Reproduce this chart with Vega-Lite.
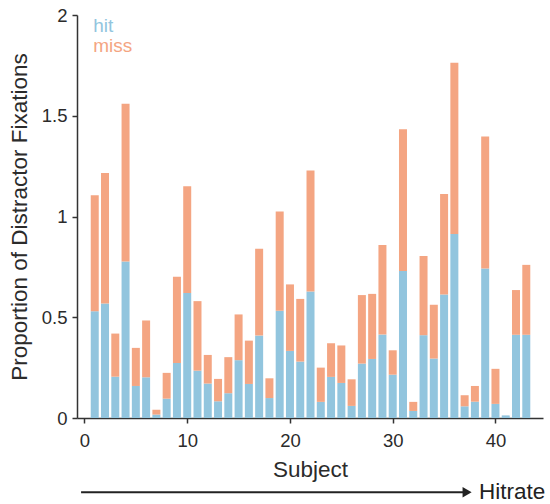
{
  "$schema": "https://vega.github.io/schema/vega-lite/v6.json",
  "width": 466,
  "height": 403,
  "autosize": "none",
  "padding": {"left": 77, "top": 15, "right": 7, "bottom": 86},
  "background": "white",
  "config": {
    "view": {"stroke": null},
    "font": "Liberation Sans",
    "axis": {
      "grid": false,
      "domainColor": "#333333",
      "domainWidth": 1.5,
      "tickColor": "#333333",
      "tickWidth": 1.5,
      "tickSize": 5,
      "labelFont": "Liberation Sans",
      "labelFontSize": 18.5,
      "labelColor": "#2b2b2b",
      "titleFont": "Liberation Sans",
      "titleFontSize": 22.5,
      "titleFontWeight": "normal",
      "titleColor": "#2b2b2b"
    }
  },
  "datasets": {
    "fixations": [
      {"subject": 1, "type": "hit", "value": 0.530}, {"subject": 1, "type": "miss", "value": 0.575},
      {"subject": 2, "type": "hit", "value": 0.568}, {"subject": 2, "type": "miss", "value": 0.648},
      {"subject": 3, "type": "hit", "value": 0.205}, {"subject": 3, "type": "miss", "value": 0.214},
      {"subject": 4, "type": "hit", "value": 0.777}, {"subject": 4, "type": "miss", "value": 0.782},
      {"subject": 5, "type": "hit", "value": 0.159}, {"subject": 5, "type": "miss", "value": 0.189},
      {"subject": 6, "type": "hit", "value": 0.202}, {"subject": 6, "type": "miss", "value": 0.282},
      {"subject": 7, "type": "hit", "value": 0.017}, {"subject": 7, "type": "miss", "value": 0.024},
      {"subject": 8, "type": "hit", "value": 0.096}, {"subject": 8, "type": "miss", "value": 0.128},
      {"subject": 9, "type": "hit", "value": 0.273}, {"subject": 9, "type": "miss", "value": 0.428},
      {"subject": 10, "type": "hit", "value": 0.620}, {"subject": 10, "type": "miss", "value": 0.530},
      {"subject": 11, "type": "hit", "value": 0.235}, {"subject": 11, "type": "miss", "value": 0.345},
      {"subject": 12, "type": "hit", "value": 0.171}, {"subject": 12, "type": "miss", "value": 0.142},
      {"subject": 13, "type": "hit", "value": 0.083}, {"subject": 13, "type": "miss", "value": 0.111},
      {"subject": 14, "type": "hit", "value": 0.123}, {"subject": 14, "type": "miss", "value": 0.179},
      {"subject": 15, "type": "hit", "value": 0.287}, {"subject": 15, "type": "miss", "value": 0.227},
      {"subject": 16, "type": "hit", "value": 0.169}, {"subject": 16, "type": "miss", "value": 0.215},
      {"subject": 17, "type": "hit", "value": 0.409}, {"subject": 17, "type": "miss", "value": 0.431},
      {"subject": 18, "type": "hit", "value": 0.099}, {"subject": 18, "type": "miss", "value": 0.098},
      {"subject": 19, "type": "hit", "value": 0.532}, {"subject": 19, "type": "miss", "value": 0.493},
      {"subject": 20, "type": "hit", "value": 0.333}, {"subject": 20, "type": "miss", "value": 0.330},
      {"subject": 21, "type": "hit", "value": 0.280}, {"subject": 21, "type": "miss", "value": 0.311},
      {"subject": 22, "type": "hit", "value": 0.628}, {"subject": 22, "type": "miss", "value": 0.600},
      {"subject": 23, "type": "hit", "value": 0.080}, {"subject": 23, "type": "miss", "value": 0.170},
      {"subject": 24, "type": "hit", "value": 0.204}, {"subject": 24, "type": "miss", "value": 0.167},
      {"subject": 25, "type": "hit", "value": 0.174}, {"subject": 25, "type": "miss", "value": 0.186},
      {"subject": 26, "type": "hit", "value": 0.060}, {"subject": 26, "type": "miss", "value": 0.132},
      {"subject": 27, "type": "hit", "value": 0.270}, {"subject": 27, "type": "miss", "value": 0.340},
      {"subject": 28, "type": "hit", "value": 0.293}, {"subject": 28, "type": "miss", "value": 0.323},
      {"subject": 29, "type": "hit", "value": 0.414}, {"subject": 29, "type": "miss", "value": 0.444},
      {"subject": 30, "type": "hit", "value": 0.215}, {"subject": 30, "type": "miss", "value": 0.121},
      {"subject": 31, "type": "hit", "value": 0.729}, {"subject": 31, "type": "miss", "value": 0.704},
      {"subject": 32, "type": "hit", "value": 0.035}, {"subject": 32, "type": "miss", "value": 0.045},
      {"subject": 33, "type": "hit", "value": 0.411}, {"subject": 33, "type": "miss", "value": 0.393},
      {"subject": 34, "type": "hit", "value": 0.295}, {"subject": 34, "type": "miss", "value": 0.267},
      {"subject": 35, "type": "hit", "value": 0.613}, {"subject": 35, "type": "miss", "value": 0.499},
      {"subject": 36, "type": "hit", "value": 0.913}, {"subject": 36, "type": "miss", "value": 0.850},
      {"subject": 37, "type": "hit", "value": 0.058}, {"subject": 37, "type": "miss", "value": 0.055},
      {"subject": 38, "type": "hit", "value": 0.081}, {"subject": 38, "type": "miss", "value": 0.078},
      {"subject": 39, "type": "hit", "value": 0.742}, {"subject": 39, "type": "miss", "value": 0.655},
      {"subject": 40, "type": "hit", "value": 0.070}, {"subject": 40, "type": "miss", "value": 0.174},
      {"subject": 41, "type": "hit", "value": 0.013}, {"subject": 41, "type": "miss", "value": 0.0},
      {"subject": 42, "type": "hit", "value": 0.413}, {"subject": 42, "type": "miss", "value": 0.222},
      {"subject": 43, "type": "hit", "value": 0.413}, {"subject": 43, "type": "miss", "value": 0.347}
    ]
  },
  "layer": [
    {
      "data": {"name": "fixations"},
      "mark": {"type": "bar", "width": 8},
      "encoding": {
        "x": {
          "field": "subject",
          "type": "quantitative",
          "scale": {"domain": [-0.24, 44.14], "nice": false, "zero": false},
          "axis": {"values": [0, 10, 20, 30, 40], "labelPadding": 8, "title": "Subject", "titlePadding": 9}
        },
        "y": {
          "field": "value",
          "type": "quantitative",
          "stack": "zero",
          "scale": {"domain": [0, 2], "nice": false},
          "axis": {"values": [0, 0.5, 1, 1.5, 2], "format": "~g", "labelPadding": 5, "title": "Proportion of Distractor Fixations", "titlePadding": 10}
        },
        "color": {
          "field": "type",
          "type": "nominal",
          "scale": {"domain": ["hit", "miss"], "range": ["#92c5de", "#f4a582"]},
          "legend": null
        },
        "order": {"field": "type", "sort": "ascending"}
      }
    },
    {
      "data": {"values": [{}]},
      "mark": {"type": "text", "text": "hit", "align": "left", "baseline": "alphabetic", "fontSize": 19},
      "encoding": {
        "x": {"datum": 0.85},
        "y": {"datum": 1.915},
        "color": {"datum": "hit"}
      }
    },
    {
      "data": {"values": [{}]},
      "mark": {"type": "text", "text": "miss", "align": "left", "baseline": "alphabetic", "fontSize": 19},
      "encoding": {
        "x": {"datum": 0.85},
        "y": {"datum": 1.816},
        "color": {"datum": "miss"}
      }
    },
    {
      "data": {"values": [{}]},
      "mark": {"type": "rule", "color": "#222222", "strokeWidth": 2},
      "encoding": {
        "x": {"datum": -0.33},
        "x2": {"datum": 36.9},
        "y": {"datum": -0.369}
      }
    },
    {
      "data": {"values": [{}]},
      "mark": {"type": "point", "shape": "triangle-right", "filled": true, "color": "#222222", "size": 110, "opacity": 1},
      "encoding": {
        "x": {"datum": 37.24},
        "y": {"datum": -0.369}
      }
    },
    {
      "data": {"values": [{}]},
      "mark": {"type": "text", "text": "Hitrate", "align": "left", "baseline": "middle", "fontSize": 22.5, "color": "#222222"},
      "encoding": {
        "x": {"datum": 38.4},
        "y": {"datum": -0.369}
      }
    }
  ]
}
